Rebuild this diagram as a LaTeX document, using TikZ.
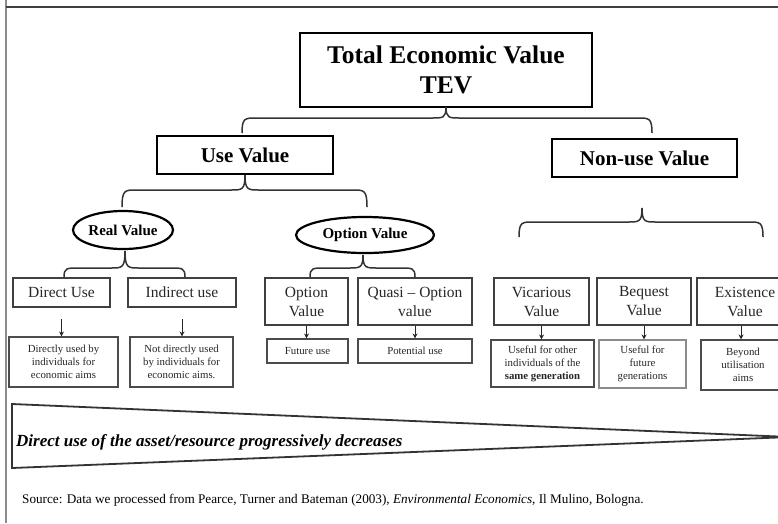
\documentclass[tikz,border=0pt]{standalone}
\usepackage{fontspec}
\setmainfont{Liberation Serif}
\usetikzlibrary{shapes.geometric,arrows.meta}
\newcommand\fs[2]{\fontsize{#1}{#2}\selectfont}
\newcommand\mybrace[6]{%
 \draw[bracestyle] (#3,#6) .. controls (#3,#5) and ({#3+3},#5) .. ({#3+14},#5) -- ({#1-14},#5) .. controls ({#1-3},#5) and (#1,#5) .. (#1,#2) .. controls (#1,#5) and ({#1+3},#5) .. ({#1+14},#5) -- ({#4-14},#5) .. controls ({#4-3},#5) and (#4,#5) .. (#4,#6);}
\begin{document}
\begin{tikzpicture}[x=1pt,y=-1pt,
  bigbox/.style={draw, line width=2.6pt, inner sep=0pt, align=center, font=\fs{25.5}{30}\bfseries},
  midbox/.style={draw, line width=2.4pt, inner sep=0pt, align=center, font=\fs{21}{24}\bfseries},
  oval/.style={ellipse, draw, line width=2.2pt, inner sep=0pt, align=center, font=\fs{15}{18}\bfseries},
  catbox/.style={draw=black!75, line width=1.6pt, inner sep=0pt, align=center, text=black!85, font=\fs{15.5}{19}},
  descbox/.style={draw=black!70, line width=1.1pt, inner sep=0pt, align=center, text=black!85, font=\fs{10.8}{13}},
  bracestyle/.style={draw=black!80, line width=1.5pt},
  arr/.style={draw=black!85, line width=0.9pt, -{Stealth[length=5pt,width=5pt]}},
  wedge/.style={draw=black!80, line width=1.8pt, line join=miter}]
\useasboundingbox (0,0) rectangle (778,523);
\begin{scope}
\clip (0,0) rectangle (778,523);
% frame
\draw[line width=1.5pt, black!45] (6,0) -- (6,523);
\draw[line width=1.3pt, black!75] (6,7) -- (778,7);
% top levels
\node[bigbox, minimum width=292pt, minimum height=74pt] (tev) at (446,70) {Total Economic Value\\TEV};
\node[midbox, minimum width=176pt, minimum height=38pt] (use) at (245,155) {Use Value};
\node[midbox, minimum width=185pt, minimum height=38pt] (nonuse) at (644.5,158) {Non-use Value};
\node[oval, minimum width=100pt, minimum height=38pt] (rv) at (123,230) {Real Value};
\node[oval, minimum width=138pt, minimum height=36pt] (ov) at (365,235) {Option Value};
% category boxes
\node[catbox, minimum width=97pt, minimum height=29pt] (du) at (61.5,292.5) {Direct Use};
\node[catbox, minimum width=108pt, minimum height=29pt] (iu) at (182,292.5) {Indirect use};
\node[catbox, minimum width=83pt, minimum height=47pt] (ovb) at (306.5,301.5) {Option\\Value};
\node[catbox, minimum width=114pt, minimum height=47pt] (qov) at (415,301.5) {Quasi -- Option\\value};
\node[catbox, minimum width=95pt, minimum height=47pt] (vv) at (541.5,301.5) {Vicarious\\Value};
\node[catbox, minimum width=94pt, minimum height=47pt] (bv) at (644,301.5) {Bequest\\Value};
\node[catbox, minimum width=96pt, minimum height=47pt] (ev) at (745,301.5) {Existence\\Value};
% description boxes
\node[descbox, minimum width=109pt, minimum height=50pt] (dd) at (63.5,362) {Directly used by\\individuals for\\economic aims};
\node[descbox, minimum width=103pt, minimum height=50pt] (idd) at (181.5,362) {Not directly used\\by individuals for\\economic aims.};
\node[descbox, minimum width=81pt, minimum height=24pt] (fu) at (307.5,351) {Future use};
\node[descbox, minimum width=114pt, minimum height=24pt] (pu) at (415,351) {Potential use};
\node[descbox, minimum width=103pt, minimum height=47pt] (vd) at (542.5,363.5) {Useful for other\\individuals of the\\\textbf{same generation}};
\node[descbox, draw=black!45, minimum width=87pt, minimum height=48pt] (bd) at (642.5,364) {Useful for\\future\\generations};
\node[descbox, minimum width=84pt, minimum height=50pt] (ed) at (743,365) {Beyond\\utilisation\\aims};
% braces
\mybrace{446}{107}{242}{652}{118}{133}
\mybrace{245}{175}{122}{367}{190}{207}
\mybrace{125}{251}{64}{185}{268}{277}
\mybrace{363}{255}{310}{415}{268}{277}
\mybrace{642}{208}{519}{763}{222}{237}
% arrows
\draw[arr] ([yshift=-11pt]du.south) -- (du.south |- dd.north);
\draw[arr] ([yshift=-11pt]iu.south) -- (iu.south |- idd.north);
\draw[arr] (ovb.south) -- (ovb.south |- fu.north);
\draw[arr] (qov.south) -- (qov.south |- pu.north);
\draw[arr] (vv.south) -- (vv.south |- vd.north);
\draw[arr] (bv.south) -- (bv.south |- bd.north);
\draw[arr] ([xshift=-4pt]ev.south) -- ([xshift=-4pt]ev.south |- ed.north);
% wedge
\draw[wedge] (12,404) -- (790,437) -- (12,468) -- cycle;
\node[anchor=west, inner sep=0pt, font=\fs{17}{20}\bfseries\itshape] (wt) at (16,442) {Direct use of the asset/resource progressively decreases};
% source
\node[anchor=west, inner sep=0pt, font=\fs{13.2}{15}] (src) at (22,500) {Source: Data we processed from Pearce, Turner and Bateman (2003), \textit{Environmental Economics}, Il Mulino, Bologna.};
\end{scope}
\end{tikzpicture}
\end{document}
